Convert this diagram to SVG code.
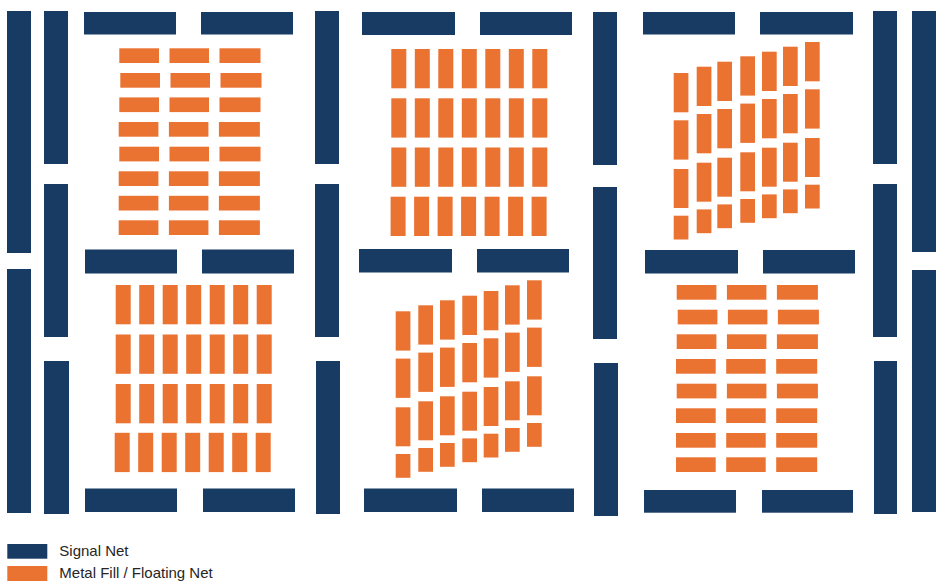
<svg xmlns="http://www.w3.org/2000/svg" width="944" height="586" viewBox="0 0 944 586">
<style>
.sig{fill:#173B63}
.of{fill:#EA7332}
.lbl{font-family:"Liberation Sans",Arial,sans-serif;font-size:15px;fill:#262626}
</style>
<defs>
<g id="skcol">
<rect x="0" y="0" width="14.7" height="39.3"/>
<rect x="0" y="47.3" width="14.7" height="39.3"/>
<rect x="0" y="96" width="14.7" height="39"/>
<rect x="0" y="142.7" width="14.7" height="23.8"/>
</g>
<g id="hrow">
<rect x="0" y="0" width="39.7" height="14.7"/>
<rect x="50.2" y="0" width="39.5" height="14.7"/>
<rect x="100.2" y="0" width="41" height="14.7"/>
</g>
<g id="vrow">
<rect x="0" y="0" width="15" height="39.3"/>
<rect x="23.5" y="0" width="15" height="39.3"/>
<rect x="47" y="0" width="15" height="39.3"/>
<rect x="70.5" y="0" width="15" height="39.3"/>
<rect x="94" y="0" width="15" height="39.3"/>
<rect x="117.5" y="0" width="15" height="39.3"/>
<rect x="141" y="0" width="15" height="39.3"/>
</g>
</defs>
<rect width="944" height="586" fill="#ffffff"/>

<g id="signal-nets" class="sig">
<rect x="7" y="11" width="24" height="242"/>
<rect x="7" y="269" width="24" height="244"/>
<rect x="44" y="11" width="24" height="153"/>
<rect x="44" y="184" width="24" height="153"/>
<rect x="44" y="361" width="25" height="153"/>
<rect x="315" y="11" width="24" height="153"/>
<rect x="315" y="184" width="24" height="153"/>
<rect x="316" y="361" width="24" height="153"/>
<rect x="593" y="12" width="24" height="153"/>
<rect x="593" y="187" width="24" height="152"/>
<rect x="594" y="363" width="24" height="153"/>
<rect x="873" y="11" width="24" height="153"/>
<rect x="873" y="184" width="24" height="153"/>
<rect x="874" y="361" width="23" height="153"/>
<rect x="912" y="11" width="24" height="241"/>
<rect x="912" y="270" width="24" height="242"/>
<rect x="84" y="12" width="92" height="22.5"/>
<rect x="201" y="12" width="92" height="22.5"/>
<rect x="362" y="12" width="93" height="23"/>
<rect x="480" y="12" width="92" height="23"/>
<rect x="643" y="12" width="92" height="22.5"/>
<rect x="760" y="12" width="93" height="22.5"/>
<rect x="85" y="249.5" width="92" height="24"/>
<rect x="202" y="249.5" width="92" height="24"/>
<rect x="359" y="249" width="93" height="23.5"/>
<rect x="477" y="249" width="92" height="23.5"/>
<rect x="645" y="250" width="93" height="23.5"/>
<rect x="763" y="250" width="92" height="23.5"/>
<rect x="85" y="488.5" width="92" height="23.5"/>
<rect x="203" y="488.5" width="92" height="23.5"/>
<rect x="364" y="488.5" width="93" height="23.5"/>
<rect x="482" y="488.5" width="92" height="23.5"/>
<rect x="644" y="490" width="92" height="22.7"/>
<rect x="762" y="490" width="91" height="22.7"/>
</g>

<g id="fill-top-left" class="of">
<use href="#hrow" x="119.3" y="48.3"/>
<use href="#hrow" x="120.3" y="73"/>
<use href="#hrow" x="119.3" y="97.4"/>
<use href="#hrow" x="118.7" y="122"/>
<use href="#hrow" x="119.3" y="146.7"/>
<use href="#hrow" x="118.7" y="171.3"/>
<use href="#hrow" x="118.7" y="195.8"/>
<use href="#hrow" x="118.7" y="220.3"/>
</g>

<g id="fill-top-center" class="of">
<use href="#vrow" x="391.3" y="49"/>
<use href="#vrow" x="391.3" y="98.3"/>
<use href="#vrow" x="391.3" y="147.5"/>
<use href="#vrow" x="390.6" y="196.7"/>
</g>

<g id="fill-top-right" class="of">
<use href="#skcol" x="673.7" y="73"/>
<use href="#skcol" x="696.7" y="66.7"/>
<use href="#skcol" x="717.3" y="61.7"/>
<use href="#skcol" x="740.3" y="56.3"/>
<use href="#skcol" x="762" y="51.7"/>
<use href="#skcol" x="783" y="46.7"/>
<use href="#skcol" x="805" y="42"/>
</g>

<g id="fill-bottom-left" class="of">
<use href="#vrow" x="115.7" y="285"/>
<use href="#vrow" x="115.7" y="334.5"/>
<use href="#vrow" x="115.7" y="384"/>
<use href="#vrow" x="114.7" y="432.8"/>
</g>

<g id="fill-bottom-center" class="of">
<use href="#skcol" x="395.7" y="311.3"/>
<use href="#skcol" x="418.3" y="305.3"/>
<use href="#skcol" x="440" y="300.3"/>
<use href="#skcol" x="462.3" y="295.7"/>
<use href="#skcol" x="483.7" y="291"/>
<use href="#skcol" x="505" y="285.3"/>
<use href="#skcol" x="527" y="280.3"/>
</g>

<g id="fill-bottom-right" class="of">
<use href="#hrow" x="676.7" y="285"/>
<use href="#hrow" x="677.7" y="309.7"/>
<use href="#hrow" x="676.7" y="334.3"/>
<use href="#hrow" x="676" y="359"/>
<use href="#hrow" x="676.7" y="383.7"/>
<use href="#hrow" x="676" y="408.3"/>
<use href="#hrow" x="676" y="433"/>
<use href="#hrow" x="676" y="457.3"/>
</g>

<g id="legend">
<rect class="sig" x="7.3" y="544" width="40" height="14.7"/>
<rect class="of" x="7.3" y="566" width="40" height="15"/>
<text class="lbl" x="59.3" y="556">Signal Net</text>
<text class="lbl" x="59.3" y="578">Metal Fill / Floating Net</text>
</g>
</svg>
